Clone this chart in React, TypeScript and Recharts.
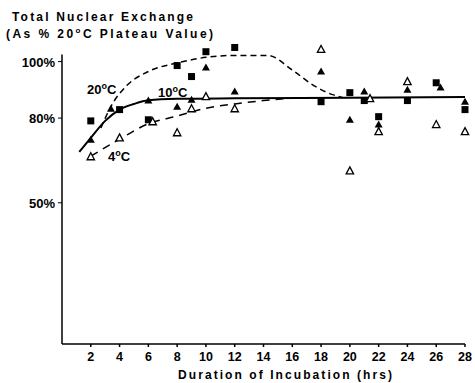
import React from 'react';
import { ComposedChart, Line, Scatter, XAxis, YAxis, ReferenceLine } from 'recharts';

// hours of incubation, % of 20°C plateau value
const squares20 = [
  { x: 2, y: 79 }, { x: 4, y: 83 }, { x: 6, y: 79.4 }, { x: 8, y: 98.6 }, { x: 9, y: 94.7 },
  { x: 10, y: 103.5 }, { x: 12, y: 105 }, { x: 18, y: 85.8 }, { x: 20, y: 89 }, { x: 21, y: 86.2 },
  { x: 22, y: 80.5 }, { x: 24, y: 86.2 }, { x: 26, y: 92.5 }, { x: 28, y: 83 },
];
const filled10 = [
  { x: 2, y: 72.3 }, { x: 3.4, y: 83.3 }, { x: 6, y: 86.2 }, { x: 8, y: 84 }, { x: 9, y: 86.5 },
  { x: 10, y: 97.9 }, { x: 12, y: 89.4 }, { x: 18, y: 96.5 }, { x: 20, y: 79.4 }, { x: 21, y: 89.4 },
  { x: 22, y: 77.7 }, { x: 24, y: 90 }, { x: 26.3, y: 90.8 }, { x: 28, y: 85.8 },
];
const open4 = [
  { x: 2, y: 66.3 }, { x: 4, y: 73 }, { x: 6.3, y: 78.7 }, { x: 8, y: 74.8 }, { x: 9, y: 83.3 },
  { x: 10, y: 87.6 }, { x: 12, y: 83.3 }, { x: 18, y: 104.3 }, { x: 20, y: 61.3 }, { x: 21.4, y: 86.9 },
  { x: 22, y: 75.2 }, { x: 24, y: 92.9 }, { x: 26, y: 77.7 }, { x: 28, y: 75.2 },
];

const curve20 = [
  { x: 2.7, y: 76.5 }, { x: 3.5, y: 85 }, { x: 4.5, y: 91.5 }, { x: 6, y: 96.5 }, { x: 8, y: 99.5 },
  { x: 10, y: 101.5 }, { x: 12, y: 102.2 }, { x: 14.3, y: 102.2 }, { x: 16, y: 97 },
  { x: 17.5, y: 91.5 }, { x: 18.8, y: 88.3 }, { x: 19.5, y: 87.3 },
];
const curve10 = [
  { x: 1.2, y: 68 }, { x: 2, y: 73 }, { x: 3, y: 79 }, { x: 4, y: 83 }, { x: 5, y: 85 },
  { x: 6, y: 86.3 }, { x: 8, y: 86.8 }, { x: 12, y: 87 }, { x: 20, y: 87.2 }, { x: 28, y: 87.5 },
];
const curve4 = [
  { x: 2, y: 66.5 }, { x: 4, y: 72.5 }, { x: 6, y: 78 }, { x: 8, y: 80.7 }, { x: 10, y: 83.5 },
  { x: 12, y: 85 }, { x: 14, y: 86.2 }, { x: 15.5, y: 86.9 },
];

const xTicks = [2, 4, 6, 8, 10, 12, 14, 16, 18, 20, 22, 24, 26, 28];
const yTicks = [50, 80, 100];

const FONT = '"Liberation Sans", Arial, sans-serif';

const Square = (props: any) => (
  <rect x={props.cx - 3.5} y={props.cy - 3.5} width={7} height={7} fill="#000" />
);
const FilledTri = (props: any) => (
  <path d={`M${props.cx},${props.cy - 4} L${props.cx + 4},${props.cy + 3} L${props.cx - 4},${props.cy + 3} Z`} fill="#000" />
);
const OpenTri = (props: any) => (
  <path
    d={`M${props.cx},${props.cy - 4} L${props.cx + 3.7},${props.cy + 3} L${props.cx - 3.7},${props.cy + 3} Z`}
    fill="#fff"
    stroke="#000"
    strokeWidth={1.3}
  />
);

const YTick = (props: any) => {
  const { x, y, payload } = props;
  return (
    <text x={x - 1} y={y + 5} textAnchor="end" fontSize={13} fontWeight="bold" fill="#000" fontFamily={FONT}>
      {payload.value}%
    </text>
  );
};

const XTick = (props: any) => {
  const { x, y, payload } = props;
  return (
    <text x={x} y={y + 12} textAnchor="middle" fontSize={12.5} fontWeight="bold" fill="#000" fontFamily={FONT}>
      {payload.value}
    </text>
  );
};

const Deg = ({ x, y, num }: { x: number; y: number; num: string }) => (
  <text x={x} y={y} fontSize={13} fontWeight="bold" fill="#000" fontFamily={FONT}>
    {num}
    <tspan fontSize={9} dy={-5}>o</tspan>
    <tspan dy={5}>C</tspan>
  </text>
);

export default function App() {
  return (
    <div style={{ position: 'fixed', left: 0, top: 0, width: 475, height: 383, background: '#fff' }}>
      <ComposedChart
        width={475}
        height={383}
        margin={{ top: 39, right: 10, bottom: 9, left: 12 }}
        style={{ fontFamily: FONT }}
      >
        <XAxis
          type="number"
          dataKey="x"
          domain={[0, 28]}
          ticks={xTicks}
          height={30}
          stroke="#000"
          strokeWidth={1.5}
          tickSize={3}
          tick={<XTick />}
        />
        <YAxis
          type="number"
          dataKey="y"
          domain={[0, 108]}
          ticks={yTicks}
          width={50}
          axisLine={false}
          stroke="#000"
          tickSize={4}
          tick={<YTick />}
        />
        <ReferenceLine
          segment={[{ x: 0, y: 0 }, { x: 0, y: 102.5 }]}
          stroke="#000"
          strokeWidth={1.5}
        />
        <Line data={curve20} dataKey="y" type="monotone" stroke="#000" strokeWidth={1.5} strokeDasharray="6 4" dot={false} isAnimationActive={false} />
        <Line data={curve4} dataKey="y" type="monotone" stroke="#000" strokeWidth={1.5} strokeDasharray="8 6" dot={false} isAnimationActive={false} />
        <Line data={curve10} dataKey="y" type="monotone" stroke="#000" strokeWidth={2} dot={false} isAnimationActive={false} />
        <Scatter data={squares20} dataKey="y" shape={<Square />} isAnimationActive={false} />
        <Scatter data={filled10} dataKey="y" shape={<FilledTri />} isAnimationActive={false} />
        <Scatter data={open4} dataKey="y" shape={<OpenTri />} isAnimationActive={false} />
      </ComposedChart>
      <svg width={475} height={383} style={{ position: 'absolute', left: 0, top: 0, pointerEvents: 'none' }}>
        <text x={12} y={21} fontSize={12} fontWeight="bold" fill="#000" fontFamily={FONT} textLength={181} lengthAdjust="spacing">
          Total Nuclear Exchange
        </text>
        <text x={6} y={38} fontSize={12} fontWeight="bold" fill="#000" fontFamily={FONT} textLength={207} lengthAdjust="spacing">
          (As % 20<tspan fontSize={8} dy={-5}>o</tspan><tspan dy={5}>C Plateau Value)</tspan>
        </text>
        <Deg x={87} y={94} num="20" />
        <Deg x={158} y={97} num="10" />
        <Deg x={108} y={161} num="4" />
        <text x={178} y={379} fontSize={12} fontWeight="bold" fill="#000" fontFamily={FONT} textLength={214} lengthAdjust="spacing">
          Duration of Incubation (hrs)
        </text>
      </svg>
    </div>
  );
}
